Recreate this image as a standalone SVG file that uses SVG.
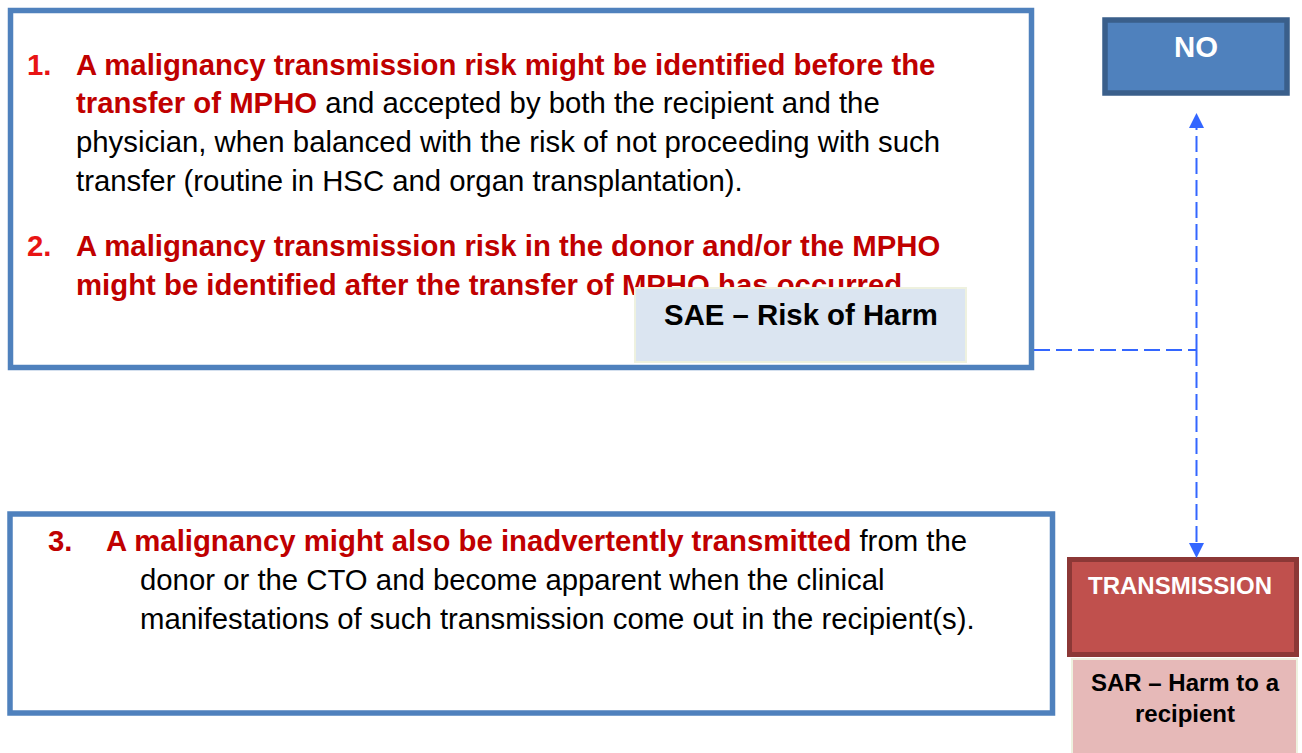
<svg xmlns="http://www.w3.org/2000/svg" width="1302" height="753" viewBox="0 0 1302 753">
  <style>
    text { font-family: "Liberation Sans", Arial, sans-serif; }
    .body { font-size: 29.33px; fill: #000000; }
    .b { font-weight: bold; }
    .red { fill: #C00000; font-weight: bold; }
    .num { fill: #E81414; font-weight: bold; }
    .frame { fill: #FFFFFF; stroke: #4F81BD; stroke-width: 5.5; }
    .conn { fill: none; stroke: #3366FF; stroke-width: 2; stroke-dasharray: 16 6; }
  </style>
  <defs>
    <marker id="arrow" viewBox="0 0 15 15" refX="0" refY="7.5" markerWidth="15" markerHeight="15" markerUnits="userSpaceOnUse" orient="auto">
      <path d="M0 0 L15 7.5 L0 15 Z" fill="#3366FF"/>
    </marker>
  </defs>
  <rect width="1302" height="753" fill="#FFFFFF"/>

  <g id="box-top">
    <rect class="frame" x="10.5" y="10.5" width="1021" height="357"/>
    <text class="body"><tspan class="num" x="27" y="75">1.</tspan><tspan class="red" x="76" y="75">A malignancy transmission risk might be identified before the</tspan></text>
    <text class="body" x="76" y="113"><tspan class="red">transfer of MPHO</tspan> and accepted by both the recipient and the</text>
    <text class="body" x="76" y="152">physician, when balanced with the risk of not proceeding with such</text>
    <text class="body" x="76" y="191">transfer (routine in HSC and organ transplantation).</text>
    <text class="body"><tspan class="num" x="27" y="256">2.</tspan><tspan class="red" x="76" y="256">A malignancy transmission risk in the donor and/or the MPHO</tspan></text>
    <text class="body red" x="76" y="295">might be identified after the transfer of MPHO has occurred</text>
  </g>

  <g id="sae">
    <rect x="635" y="288" width="331" height="74" fill="#DBE5F1" stroke="#EEF1DF" stroke-width="2"/>
    <text class="b" x="801" y="325" font-size="29.33" text-anchor="middle" fill="#000000">SAE – Risk of Harm</text>
  </g>

  <g id="box-bottom">
    <rect class="frame" x="10" y="514" width="1042.5" height="199"/>
    <text class="body"><tspan class="red" x="48" y="551">3.</tspan><tspan class="red" x="106" y="551">A malignancy might also be inadvertently transmitted</tspan><tspan> from the</tspan></text>
    <text class="body" x="140" y="590">donor or the CTO and become apparent when the clinical</text>
    <text class="body" x="140" y="629">manifestations of such transmission come out in the recipient(s).</text>
  </g>

  <g id="no">
    <rect x="1105" y="20" width="182" height="73" fill="#4F81BD" stroke="#3A5F8B" stroke-width="5.5"/>
    <text class="b" x="1196" y="57" font-size="29.33" text-anchor="middle" fill="#FFFFFF">NO</text>
  </g>

  <g id="transmission">
    <rect x="1069.5" y="559.5" width="227" height="95" fill="#C0504D" stroke="#8C3836" stroke-width="5"/>
    <text class="b" x="1088" y="594" font-size="24" fill="#FFFFFF">TRANSMISSION</text>
  </g>

  <g id="sar">
    <rect x="1072" y="659" width="225" height="100" fill="#E6B9B8" stroke="#EEF1DF" stroke-width="2"/>
    <text class="b" x="1185" y="691" font-size="24" text-anchor="middle" fill="#000000">SAR – Harm to a</text>
    <text class="b" x="1185" y="722" font-size="24" text-anchor="middle" fill="#000000">recipient</text>
  </g>

  <g id="connectors">
    <path class="conn" d="M1034 350 H1196.5"/>
    <path class="conn" d="M1196.5 350 V128" marker-end="url(#arrow)"/>
    <path class="conn" d="M1196.5 350 V543" marker-end="url(#arrow)"/>
  </g>
</svg>
